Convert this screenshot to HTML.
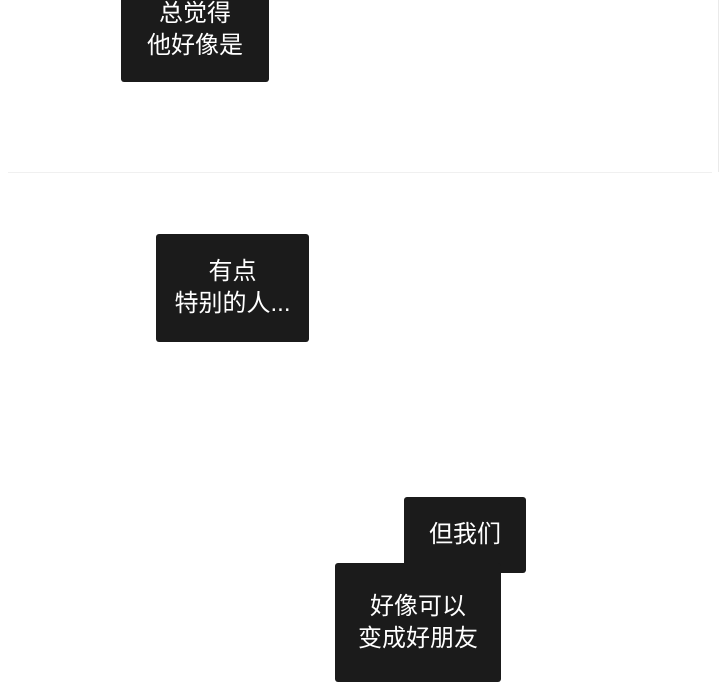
<!DOCTYPE html>
<html><head><meta charset="utf-8"><style>
body{margin:0;width:720px;height:700px;background:#fff;position:relative;overflow:hidden;font-family:"Liberation Sans","Noto Sans CJK SC",sans-serif;}
.b{position:absolute;background:#1b1b1b;border-radius:3px;color:#fff;font-size:24px;line-height:32px;text-align:center;display:flex;flex-direction:column;justify-content:center;}
</style></head><body>
<div style="position:absolute;left:8px;top:172px;width:704px;height:1px;background:#f0f0f0"></div>
<div style="position:absolute;left:718px;top:0;width:1px;height:172px;background:#eaeaea"></div>
<div class="b" style="left:121px;top:-22px;width:148px;height:104px">总觉得<br>他好像是</div>
<div class="b" style="left:156px;top:234px;width:153px;height:108px">有点<br>特别的人...</div>
<div class="b" style="left:404px;top:497px;width:122px;height:76px">但我们</div>
<div class="b" style="left:335px;top:563px;width:166px;height:119px">好像可以<br>变成好朋友</div>
</body></html>
